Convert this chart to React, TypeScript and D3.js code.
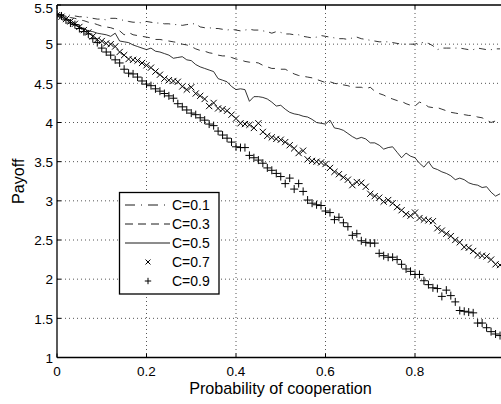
import React from "react";
import * as d3 from "d3";

const X_TICKS = [0, 0.2, 0.4, 0.6, 0.8];
const X_TICK_LABELS = ["0", "0.2", "0.4", "0.6", "0.8"];
const Y_TICKS = [1, 1.5, 2, 2.5, 3, 3.5, 4, 4.5, 5, 5.5];
const Y_TICK_LABELS = ["1", "1.5", "2", "2.5", "3", "3.5", "4", "4.5", "5", "5.5"];
const X_LABEL = "Probability of cooperation";
const Y_LABEL = "Payoff";
const SERIES_NAMES = ["C=0.1", "C=0.3", "C=0.5", "C=0.7", "C=0.9"];

// probability of cooperation: 0, 0.01, ..., 0.99
const PROB_STEP = 0.01;

const C01 = [
  5.38, 5.38, 5.37, 5.37, 5.36, 5.35, 5.35, 5.34, 5.33, 5.32,
  5.32, 5.31, 5.33, 5.33, 5.32, 5.30, 5.29, 5.28, 5.28, 5.27,
  5.29, 5.28, 5.27, 5.27, 5.26, 5.26, 5.25, 5.25, 5.24, 5.25,
  5.26, 5.26, 5.22, 5.21, 5.21, 5.20, 5.20, 5.19, 5.18, 5.19,
  5.18, 5.17, 5.18, 5.19, 5.18, 5.18, 5.17, 5.16, 5.14, 5.16,
  5.15, 5.13, 5.13, 5.12, 5.12, 5.10, 5.09, 5.08, 5.09, 5.11,
  5.10, 5.09, 5.08, 5.07, 5.07, 5.06, 5.08, 5.09, 5.07, 5.06,
  5.05, 5.04, 5.03, 5.03, 5.03, 5.02, 5.01, 5.00, 5.00, 5.00,
  5.00, 5.02, 5.02, 5.01, 4.98, 4.93, 4.95, 4.95, 4.95, 4.95,
  4.95, 4.94, 4.93, 4.93, 4.95, 4.94, 4.93, 4.93, 4.94, 4.94,
];

const C03 = [
  5.38, 5.37, 5.36, 5.34, 5.33, 5.31, 5.30, 5.28, 5.27, 5.25,
  5.23, 5.22, 5.21, 5.19, 5.17, 5.12, 5.15, 5.12, 5.11, 5.10,
  5.09, 5.08, 5.06, 5.06, 5.05, 5.04, 5.03, 5.02, 5.00, 4.99,
  4.97, 4.94, 4.92, 4.91, 4.89, 4.88, 4.86, 4.85, 4.85, 4.83,
  4.81, 4.80, 4.78, 4.77, 4.77, 4.76, 4.73, 4.71, 4.69, 4.69,
  4.68, 4.68, 4.65, 4.62, 4.60, 4.59, 4.58, 4.57, 4.55, 4.53,
  4.51, 4.52, 4.50, 4.49, 4.48, 4.47, 4.45, 4.45, 4.45, 4.43,
  4.45, 4.40, 4.37, 4.35, 4.32, 4.30, 4.28, 4.27, 4.24, 4.22,
  4.21, 4.26, 4.24, 4.20, 4.19, 4.19, 4.17, 4.15, 4.13, 4.12,
  4.11, 4.10, 4.09, 4.09, 4.07, 4.06, 4.03, 4.00, 4.02, 4.04,
];

const C05 = [
  5.37, 5.35, 5.32, 5.29, 5.24, 5.22, 5.20, 5.17, 5.16, 5.14,
  5.13, 5.12, 5.10, 5.14, 5.04, 5.03, 5.02, 4.99, 4.97, 4.95,
  4.93, 4.95, 4.91, 4.90, 4.88, 4.86, 4.82, 4.83, 4.84, 4.80,
  4.79, 4.74, 4.71, 4.69, 4.67, 4.65, 4.56, 4.54, 4.52, 4.46,
  4.42, 4.43, 4.42, 4.27, 4.33, 4.33, 4.32, 4.30, 4.26, 4.21,
  4.22, 4.17, 4.13, 4.11, 4.10, 4.08, 4.07, 4.04, 4.00, 3.99,
  3.98, 4.03, 3.93, 3.92, 3.90, 3.86, 3.82, 3.79, 3.81, 3.79,
  3.74, 3.74, 3.71, 3.66, 3.68, 3.69, 3.62, 3.55, 3.61, 3.57,
  3.55, 3.48, 3.43, 3.50, 3.42, 3.40, 3.37, 3.35, 3.32, 3.27,
  3.29, 3.27, 3.23, 3.21, 3.20, 3.17, 3.18, 3.11, 3.06, 3.09,
];

const C07 = [
  5.37, 5.35, 5.32, 5.29, 5.26, 5.22, 5.18, 5.15, 5.10, 5.06,
  5.04, 5.01, 5.00, 4.97, 4.90, 4.86, 4.81, 4.80, 4.79, 4.76,
  4.73, 4.70, 4.65, 4.61, 4.56, 4.54, 4.53, 4.52, 4.46, 4.42,
  4.45, 4.37, 4.34, 4.30, 4.21, 4.25, 4.18, 4.17, 4.15, 4.10,
  4.05, 3.99, 3.98, 3.97, 3.93, 3.99, 3.88, 3.83, 3.81, 3.79,
  3.78, 3.75, 3.71, 3.67, 3.61, 3.64, 3.53, 3.51, 3.50, 3.49,
  3.47, 3.42, 3.37, 3.34, 3.30, 3.27, 3.20, 3.24, 3.23, 3.18,
  3.09, 3.06, 3.04, 2.99, 3.01, 2.97, 2.92, 2.88, 2.83, 2.81,
  2.85, 2.78, 2.76, 2.75, 2.74, 2.65, 2.62, 2.58, 2.55, 2.50,
  2.47, 2.41, 2.40, 2.36, 2.31, 2.30, 2.29, 2.25, 2.19, 2.18,
];

const C09 = [
  5.38, 5.36, 5.31, 5.27, 5.25, 5.20, 5.16, 5.13, 5.07, 5.02,
  4.95, 4.90, 4.86, 4.80, 4.76, 4.68, 4.63, 4.62, 4.58, 4.53,
  4.49, 4.47, 4.43, 4.40, 4.37, 4.34, 4.31, 4.24, 4.20, 4.16,
  4.12, 4.10, 4.06, 4.03, 3.98, 3.96, 3.89, 3.84, 3.80, 3.75,
  3.69, 3.68, 3.68, 3.58, 3.55, 3.52, 3.48, 3.42, 3.39, 3.35,
  3.31, 3.22, 3.29, 3.15, 3.22, 3.12, 3.01, 2.97, 2.95, 2.94,
  2.87, 2.85, 2.76, 2.79, 2.72, 2.67, 2.56, 2.58, 2.49, 2.47,
  2.46, 2.46, 2.33, 2.30, 2.28, 2.28, 2.25, 2.19, 2.13, 2.10,
  2.06, 2.06, 1.98, 1.93, 1.89, 1.88, 1.78, 1.86, 1.79, 1.71,
  1.60, 1.59, 1.58, 1.57, 1.44, 1.44, 1.38, 1.33, 1.30, 1.28,
];

const W = 501;
const H = 404;
const LEFT = 57;
const RIGHT = 504.5;
const TOP = 5;
const BOTTOM = 357.5;
const FONT = "'Liberation Sans', Arial, Helvetica, sans-serif";

type Style = { kind: "line" | "marker"; dash?: string; marker?: "x" | "+" };
const STYLES: Style[] = [
  { kind: "line", dash: "7,5,1,5" },
  { kind: "line", dash: "7,6" },
  { kind: "line" },
  { kind: "marker", marker: "x" },
  { kind: "marker", marker: "+" },
];
const LEGEND_DASH = ["10,6,1,6", "8,5", undefined, undefined, undefined];

function Marker({ type, cx, cy, size = 1 }: { type: "x" | "+"; cx: number; cy: number; size?: number }) {
  if (type === "x") {
    const s = 3.1 * size;
    return (
      <path
        d={`M${cx - s},${cy - s}L${cx + s},${cy + s}M${cx - s},${cy + s}L${cx + s},${cy - s}`}
        stroke="#000"
        strokeWidth={1}
        fill="none"
      />
    );
  }
  const s = 4 * size;
  return (
    <path
      d={`M${cx - s},${cy}L${cx + s},${cy}M${cx},${cy - s}L${cx},${cy + s}`}
      stroke="#000"
      strokeWidth={1}
      fill="none"
    />
  );
}

export default function App() {
  const x = d3.scaleLinear().domain([0, 1]).range([LEFT, RIGHT]);
  const y = d3.scaleLinear().domain([1, 5.5]).range([BOTTOM, TOP]);
  const allSeries = [C01, C03, C05, C07, C09];
  const line = d3
    .line<number>()
    .x((_, i) => x(i * PROB_STEP))
    .y((d) => y(d));

  const legX0 = 119.5;
  const legY0 = 192.5;
  const legW = 99.5;
  const legH = 101.5;
  const rowY = (i: number) => 205 + i * 19;

  return (
    <svg
      width={W}
      height={H}
      style={{ position: "absolute", left: 0, top: 0, display: "block", background: "#fff" }}
      fontFamily={FONT}
    >
      <defs>
        <clipPath id="plotclip">
          <rect x={LEFT} y={TOP} width={RIGHT - LEFT} height={BOTTOM - TOP} />
        </clipPath>
      </defs>
      <rect x={0} y={0} width={W} height={H} fill="#fff" />
      {/* grid */}
      {X_TICKS.filter((t) => t > 0).map((t) => (
        <line
          key={"gx" + t}
          x1={x(t)}
          x2={x(t)}
          y1={TOP}
          y2={BOTTOM}
          stroke="#555"
          strokeWidth={1}
          strokeDasharray="1,3"
        />
      ))}
      {Y_TICKS.filter((t) => t > 1 && t < 5.5).map((t) => (
        <line
          key={"gy" + t}
          x1={LEFT}
          x2={RIGHT}
          y1={y(t)}
          y2={y(t)}
          stroke="#555"
          strokeWidth={1}
          strokeDasharray="1,3"
        />
      ))}
      {/* data */}
      <g clipPath="url(#plotclip)">
        {allSeries.map((s, k) => {
          const st = STYLES[k];
          if (st.kind === "line") {
            return (
              <path
                key={"s" + k}
                d={line(s) || ""}
                fill="none"
                stroke="#000"
                strokeWidth={0.8}
                strokeDasharray={st.dash}
              />
            );
          }
          return (
            <g key={"s" + k}>
              {s.map((v, i) => (
                <Marker key={i} type={st.marker!} cx={x(i * PROB_STEP)} cy={y(v)} />
              ))}
            </g>
          );
        })}
      </g>
      {/* axes box */}
      <line x1={LEFT} x2={LEFT} y1={TOP} y2={BOTTOM} stroke="#000" strokeWidth={1.3} />
      <line x1={LEFT} x2={RIGHT} y1={BOTTOM} y2={BOTTOM} stroke="#000" strokeWidth={1.3} />
      <line x1={LEFT} x2={RIGHT} y1={TOP} y2={TOP} stroke="#000" strokeWidth={1.3} />
      {/* ticks */}
      {X_TICKS.map((t) => (
        <g key={"tx" + t}>
          <line x1={x(t)} x2={x(t)} y1={BOTTOM} y2={BOTTOM - 4} stroke="#000" strokeWidth={1} />
          <line x1={x(t)} x2={x(t)} y1={TOP} y2={TOP + 4} stroke="#000" strokeWidth={1} />
        </g>
      ))}
      {Y_TICKS.map((t) => (
        <line key={"ty" + t} x1={LEFT} x2={LEFT + 4} y1={y(t)} y2={y(t)} stroke="#000" strokeWidth={1} />
      ))}
      {/* tick labels */}
      {X_TICKS.map((t, i) => (
        <text key={"lx" + t} x={x(t)} y={376} fontSize={13.5} textAnchor="middle" fill="#000">
          {X_TICK_LABELS[i]}
        </text>
      ))}
      {Y_TICKS.map((t, i) => (
        <text
          key={"ly" + t}
          x={LEFT - 4}
          y={t === 5.5 ? 12.5 : y(t) + 5.2}
          fontSize={13.5}
          textAnchor="end"
          fill="#000"
        >
          {Y_TICK_LABELS[i]}
        </text>
      ))}
      {/* axis labels */}
      <text x={280.5} y={394} fontSize={16.2} textAnchor="middle" fill="#000">
        {X_LABEL}
      </text>
      <text
        transform={`translate(23.5,${(TOP + BOTTOM) / 2}) rotate(-90)`}
        fontSize={16.2}
        textAnchor="middle"
        fill="#000"
      >
        {Y_LABEL}
      </text>
      {/* legend */}
      <rect x={legX0} y={legY0} width={legW} height={legH} fill="#fff" stroke="#000" strokeWidth={1.3} />
      {SERIES_NAMES.map((name, k) => {
        const st = STYLES[k];
        const cy = rowY(k);
        return (
          <g key={"leg" + k}>
            {st.kind === "line" ? (
              <line
                x1={125}
                x2={170}
                y1={cy}
                y2={cy}
                stroke="#000"
                strokeWidth={0.9}
                strokeDasharray={LEGEND_DASH[k]}
              />
            ) : (
              <Marker type={st.marker!} cx={148} cy={cy} size={0.8} />
            )}
            <text x={172} y={cy + 5} fontSize={14} fill="#000">
              {name}
            </text>
          </g>
        );
      })}
    </svg>
  );
}
